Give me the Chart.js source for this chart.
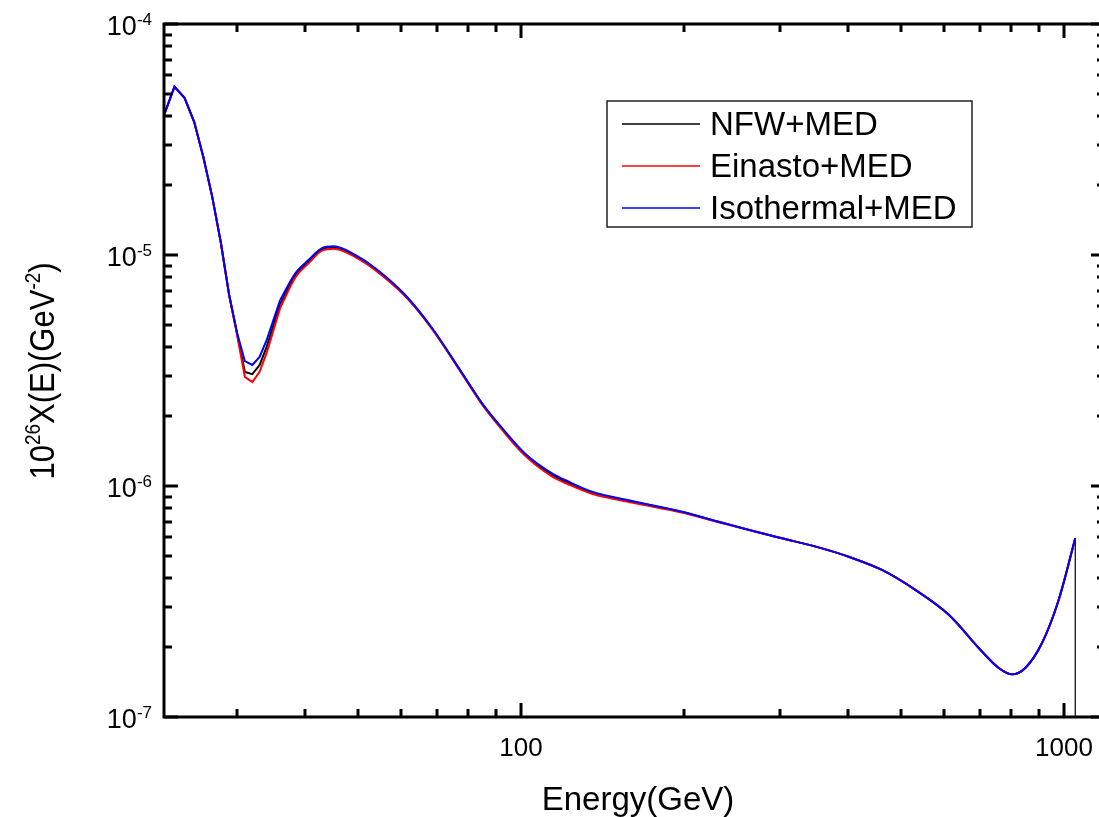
<!DOCTYPE html>
<html>
<head>
<meta charset="utf-8">
<title>X(E) vs Energy</title>
<script src="https://cdn.jsdelivr.net/npm/chart.js@4.4.0/dist/chart.umd.min.js"></script>
<style>
  html, body { margin: 0; padding: 0; background: #fff; overflow: hidden; }
  #wrap { width: 1099px; height: 817px; overflow: hidden; }
  canvas { display: block; }
</style>
</head>
<body>
<div id="wrap"><canvas id="chart" width="1110" height="817"></canvas></div>
<script>
// Energy grid (GeV)
const energy = [22, 23, 24, 25, 26, 27, 28, 29, 30, 31, 32, 33, 34, 35, 36,
    38.4, 40.6, 43, 45.2, 49.5, 53.9, 61.2, 68.6, 77.9, 84.8, 92.3, 101.8,
    114, 122.4, 135.1, 162.4, 197.9, 231.2, 277.8, 302.5, 358.4, 401.3,
    462.2, 532.3, 613.5, 706.3, 758.3, 802.2, 848.7, 911, 977.7, 1049];

// 10^26 X(E) in GeV^-2
const nfw = [4.03e-5, 5.35e-5, 4.79e-5, 3.77e-5, 2.65e-5, 1.78e-5, 1.13e-5, 6.71e-6, 4.55e-6,
    3.12e-6, 3.05e-6, 3.34e-6, 4.0e-6, 4.98e-6, 6.13e-6,
    8.15e-6, 9.35e-6, 1.06e-5, 1.08e-5, 9.9e-6, 8.7e-6, 6.67e-6, 4.8e-6, 3.07e-6, 2.27e-6, 1.77e-6, 1.37e-6,
    1.12e-6, 1.03e-6, 9.35e-7, 8.5e-7, 7.72e-7, 7.0e-7, 6.24e-7, 5.94e-7, 5.37e-7, 4.94e-7,
    4.33e-7, 3.55e-7, 2.77e-7, 1.92e-7, 1.63e-7, 1.53e-7, 1.63e-7, 2.09e-7, 3.21e-7, 5.94e-7];
const einasto = [4.03e-5, 5.35e-5, 4.79e-5, 3.77e-5, 2.65e-5, 1.78e-5, 1.13e-5, 6.71e-6, 4.5e-6,
    2.97e-6, 2.82e-6, 3.12e-6, 3.77e-6, 4.73e-6, 5.9e-6,
    8.0e-6, 9.2e-6, 1.045e-5, 1.065e-5, 9.8e-6, 8.6e-6, 6.62e-6, 4.78e-6, 3.05e-6, 2.25e-6, 1.75e-6, 1.35e-6,
    1.1e-6, 1.015e-6, 9.25e-7, 8.42e-7, 7.68e-7, 6.97e-7, 6.24e-7, 5.94e-7, 5.37e-7, 4.94e-7,
    4.33e-7, 3.55e-7, 2.77e-7, 1.92e-7, 1.63e-7, 1.53e-7, 1.63e-7, 2.09e-7, 3.21e-7, 5.94e-7];
const isothermal = [4.03e-5, 5.35e-5, 4.79e-5, 3.77e-5, 2.65e-5, 1.78e-5, 1.13e-5, 6.71e-6, 4.6e-6,
    3.47e-6, 3.34e-6, 3.62e-6, 4.28e-6, 5.24e-6, 6.38e-6,
    8.34e-6, 9.51e-6, 1.07e-5, 1.09e-5, 1.0e-5, 8.76e-6, 6.71e-6, 4.82e-6, 3.08e-6, 2.28e-6, 1.78e-6, 1.38e-6,
    1.135e-6, 1.044e-6, 9.45e-7, 8.55e-7, 7.74e-7, 7.0e-7, 6.24e-7, 5.94e-7, 5.37e-7, 4.94e-7,
    4.33e-7, 3.55e-7, 2.77e-7, 1.92e-7, 1.63e-7, 1.53e-7, 1.63e-7, 2.09e-7, 3.21e-7, 5.94e-7];

// NFW curve drops to zero at its last energy
const nfwCutEnergy = 1049;
const nfwCutValue = 1e-9;

// the low-energy part is sampled coarsely (1 GeV steps, drawn straight),
// above 36 GeV the curves are smooth
const smoothFrom = 14;

// Axis ticks
const xMajor = [100, 1000];
const xMinor = [30, 40, 50, 60, 70, 80, 90, 200, 300, 400, 500, 600, 700, 800, 900];
const yMajorExp = [-7, -6, -5, -4];
const yMinorMult = [2, 3, 4, 5, 6, 7, 8, 9];

const labels = ['NFW+MED', 'Einasto+MED', 'Isothermal+MED'];
const colors = ['#000000', '#ff0000', '#0000ff'];

function toPoints(xs, ys) {
    return xs.map((e, i) => ({x: e, y: ys[i]}));
}

const FONT = '"Liberation Sans", Arial, sans-serif';

// frame, inward ticks, tick labels, titles and legend
const axesPlugin = {
    id: 'axesPlugin',
    afterDatasetsDraw(chart) {
        const {ctx, chartArea: a, scales: {x, y}} = chart;
        ctx.save();
        ctx.strokeStyle = '#000';
        ctx.lineCap = 'butt';

        const majLen = 14, minLen = 8;
        ctx.lineWidth = 3;
        const tickX = (v, len) => {
            const px = Math.round(x.getPixelForValue(v));
            ctx.beginPath();
            ctx.moveTo(px, a.bottom); ctx.lineTo(px, a.bottom - len);
            ctx.moveTo(px, a.top); ctx.lineTo(px, a.top + len);
            ctx.stroke();
        };
        const tickY = (v, len) => {
            const py = Math.round(y.getPixelForValue(v));
            ctx.beginPath();
            ctx.moveTo(a.left, py); ctx.lineTo(a.left + len, py);
            ctx.moveTo(a.right, py); ctx.lineTo(a.right - len, py);
            ctx.stroke();
        };
        xMinor.forEach(v => tickX(v, minLen));
        xMajor.forEach(v => tickX(v, majLen));
        yMajorExp.forEach(e => {
            tickY(Math.pow(10, e), majLen);
            if (e < -4) yMinorMult.forEach(m => tickY(m * Math.pow(10, e), minLen));
        });

        ctx.lineWidth = 3;
        ctx.strokeRect(a.left, a.top, a.right - a.left, a.bottom - a.top);

        // x tick labels
        ctx.fillStyle = '#000';
        ctx.font = '26px ' + FONT;
        ctx.textAlign = 'center';
        ctx.textBaseline = 'alphabetic';
        xMajor.forEach(v => {
            ctx.fillText(String(v), x.getPixelForValue(v), 756);
        });

        // y tick labels 10^n
        yMajorExp.forEach(e => {
            const py = y.getPixelForValue(Math.pow(10, e));
            const sup = String(e);
            ctx.font = '17px ' + FONT;
            const wSup = ctx.measureText(sup).width;
            ctx.textAlign = 'right';
            ctx.fillText(sup, 152, py + 1);
            ctx.font = '27px ' + FONT;
            ctx.fillText('10', 152 - wSup, py + 11);
        });

        // x title
        ctx.font = '33px ' + FONT;
        ctx.textAlign = 'center';
        ctx.fillText('Energy(GeV)', 638, 810);

        // y title with superscripts, rotated
        const parts = [['10', 0], ['26', 1], ['X(E)(GeV', 0], ['-2', 1], [')', 0]];
        const mainF = '31px ' + FONT, supF = '19px ' + FONT;
        let total = 0;
        parts.forEach(p => { ctx.font = p[1] ? supF : mainF; total += ctx.measureText(p[0]).width; });
        ctx.save();
        ctx.translate(54, 371);
        ctx.rotate(-Math.PI / 2);
        ctx.scale(1, 1.15);
        ctx.textAlign = 'left';
        let cx = -total / 2;
        parts.forEach(p => {
            ctx.font = p[1] ? supF : mainF;
            ctx.fillText(p[0], cx, p[1] ? -12 : 0);
            cx += ctx.measureText(p[0]).width;
        });
        ctx.restore();

        // legend box
        ctx.lineWidth = 1.5;
        ctx.strokeStyle = '#222';
        ctx.strokeRect(607, 101, 365, 126);
        const rows = [124, 166, 208];
        labels.forEach((lab, i) => {
            ctx.strokeStyle = colors[i];
            ctx.lineWidth = 1.3;
            ctx.beginPath();
            ctx.moveTo(622, rows[i]); ctx.lineTo(700, rows[i]);
            ctx.stroke();
            ctx.fillStyle = '#000';
            ctx.font = '33px ' + FONT;
            ctx.textAlign = 'left';
            ctx.fillText(lab, 710, rows[i] + 11);
        });
        ctx.restore();
    }
};

// each curve = straight low-energy part + smooth high-energy part
// (+ straight drop for NFW at the end)
function makeSets(values, idx, extra) {
    const pts = toPoints(energy, values);
    const low = pts.slice(0, smoothFrom + 1);
    const high = pts.slice(smoothFrom);
    const order = 2 - idx; // Isothermal drawn on top
    const sets = [
        {label: labels[idx], data: low, borderColor: colors[idx], order: order},
        {label: labels[idx], data: high, borderColor: colors[idx], order: order,
         cubicInterpolationMode: 'monotone'}
    ];
    if (extra) {
        sets.push({label: labels[idx], data: [pts[pts.length - 1], extra],
                   borderColor: colors[idx], borderWidth: 1.2, order: order + 1});
    }
    return sets;
}

const datasets = [].concat(
    makeSets(nfw, 0, {x: nfwCutEnergy, y: nfwCutValue}),
    makeSets(einasto, 1),
    makeSets(isothermal, 2)
);

const chart = new Chart(document.getElementById('chart'), {
    type: 'line',
    data: {datasets: datasets},
    options: {
        responsive: false,
        animation: false,
        devicePixelRatio: 1,
        layout: {padding: {left: 164, right: 5, top: 24, bottom: 100}},
        elements: {
            point: {radius: 0},
            line: {borderWidth: 2, tension: 0, fill: false}
        },
        plugins: {legend: {display: false}, tooltip: {enabled: false}},
        scales: {
            x: {type: 'logarithmic', min: 22, max: 1190, display: false},
            y: {type: 'logarithmic', min: 1e-7, max: 1e-4, display: false}
        }
    },
    plugins: [axesPlugin]
});
</script>
</body>
</html>
